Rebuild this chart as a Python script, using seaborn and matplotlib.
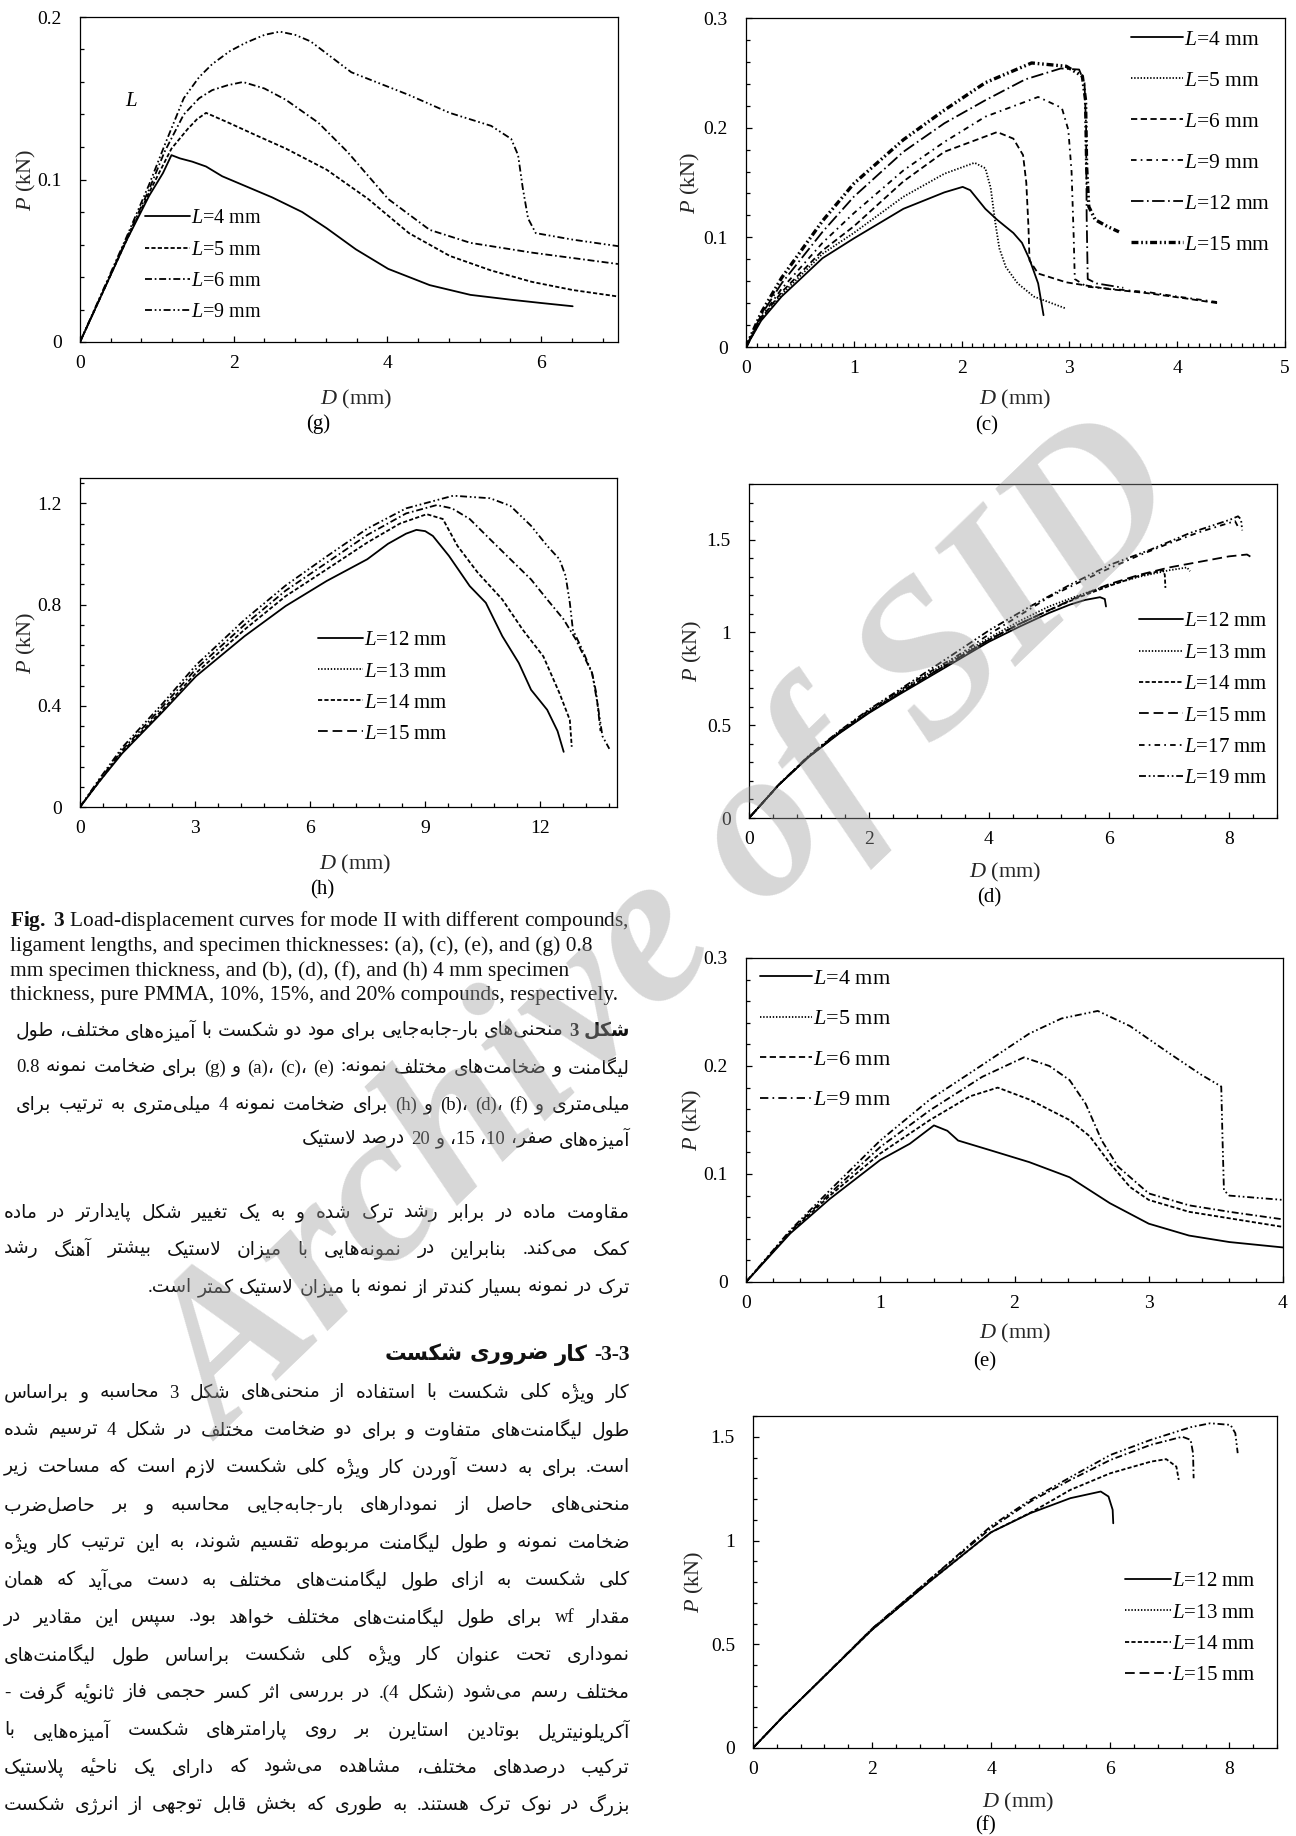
import matplotlib
matplotlib.use("Agg")
import pandas as pd
import seaborn as sns
import matplotlib.pyplot as plt
from matplotlib.lines import Line2D
from matplotlib.ticker import MultipleLocator, FuncFormatter

W, H = 1296, 1836

# ---------------- curves (D in mm, P in kN) ----------------
# panel (g)
G4 = ([0, 0.3, 0.6, 0.9, 1.08, 1.19, 1.3, 1.46, 1.64, 1.85, 2.15, 2.5, 2.89, 3.21, 3.59, 4.01, 4.55, 5.08, 5.61, 6.0, 6.41],
      [0, 0.031, 0.062, 0.090, 0.104, 0.115, 0.113, 0.111, 0.108, 0.102, 0.096, 0.089, 0.080, 0.070, 0.057, 0.045, 0.035, 0.029, 0.026, 0.024, 0.022])
G5 = ([0, 0.3, 0.6, 0.9, 1.05, 1.19, 1.40, 1.52, 1.64, 1.93, 2.3, 2.68, 3.21, 3.75, 4.28, 4.81, 5.35, 5.88, 6.41, 7.0],
      [0, 0.031, 0.062, 0.092, 0.106, 0.119, 0.131, 0.137, 0.141, 0.135, 0.127, 0.119, 0.106, 0.088, 0.067, 0.053, 0.044, 0.037, 0.032, 0.028])
G6 = ([0, 0.3, 0.6, 0.9, 1.1, 1.35, 1.55, 1.72, 1.92, 2.12, 2.4, 2.68, 3.10, 3.48, 4.01, 4.55, 5.08, 5.88, 7.0],
      [0, 0.031, 0.063, 0.094, 0.117, 0.140, 0.150, 0.155, 0.158, 0.160, 0.156, 0.149, 0.135, 0.117, 0.088, 0.069, 0.061, 0.055, 0.048])
G9 = ([0, 0.3, 0.6, 0.9, 1.1, 1.35, 1.55, 1.72, 1.95, 2.15, 2.4, 2.6, 2.8, 3.0, 3.53, 4.28, 4.81, 5.35, 5.61, 5.7, 5.76, 5.83, 5.93, 6.41, 7.0],
      [0, 0.032, 0.064, 0.097, 0.121, 0.150, 0.163, 0.171, 0.179, 0.184, 0.189, 0.191, 0.189, 0.185, 0.166, 0.152, 0.141, 0.133, 0.125, 0.115, 0.095, 0.076, 0.067, 0.063, 0.059])

# panel (c)
C4 = ([0, 0.14, 0.33, 0.71, 1.0, 1.46, 1.84, 2.01, 2.08, 2.22, 2.33, 2.48, 2.56, 2.63, 2.71, 2.76],
      [0, 0.024, 0.046, 0.081, 0.099, 0.126, 0.141, 0.146, 0.143, 0.126, 0.116, 0.104, 0.095, 0.080, 0.058, 0.029])
C5 = ([0, 0.14, 0.33, 0.71, 1.0, 1.46, 1.84, 2.12, 2.22, 2.27, 2.31, 2.35, 2.41, 2.52, 2.67, 2.97],
      [0, 0.025, 0.048, 0.085, 0.104, 0.137, 0.158, 0.168, 0.163, 0.145, 0.115, 0.090, 0.073, 0.058, 0.046, 0.035])
C6 = ([0, 0.14, 0.33, 0.71, 1.0, 1.46, 1.84, 2.33, 2.48, 2.57, 2.60, 2.62, 2.63, 2.71, 2.97, 3.35, 3.73, 4.1, 4.37],
      [0, 0.026, 0.050, 0.088, 0.110, 0.151, 0.178, 0.196, 0.190, 0.175, 0.150, 0.110, 0.079, 0.067, 0.059, 0.053, 0.049, 0.044, 0.040])
C9 = ([0, 0.14, 0.33, 0.71, 1.0, 1.46, 1.84, 2.22, 2.71, 2.93, 2.99, 3.02, 3.04, 3.05, 3.16, 3.5, 3.73, 4.0, 4.37],
      [0, 0.027, 0.053, 0.095, 0.122, 0.161, 0.187, 0.210, 0.228, 0.218, 0.198, 0.160, 0.100, 0.062, 0.055, 0.052, 0.050, 0.046, 0.041])
C12 = ([0, 0.14, 0.33, 0.71, 1.0, 1.46, 1.84, 2.22, 2.59, 2.92, 3.09, 3.14, 3.155, 3.16, 3.17, 3.25, 3.5],
       [0, 0.029, 0.058, 0.105, 0.137, 0.178, 0.204, 0.225, 0.244, 0.254, 0.253, 0.241, 0.200, 0.120, 0.062, 0.058, 0.054])
C15 = ([0, 0.14, 0.33, 0.71, 1.0, 1.46, 1.84, 2.22, 2.65, 2.97, 3.12, 3.15, 3.16, 3.18, 3.24, 3.35, 3.46],
       [0, 0.031, 0.063, 0.115, 0.149, 0.189, 0.216, 0.241, 0.259, 0.256, 0.247, 0.225, 0.164, 0.128, 0.116, 0.110, 0.105])

# panel (h)
H12 = ([0, 0.5, 1.1, 2.16, 3.02, 4.29, 5.36, 6.43, 7.49, 8.03, 8.5, 8.77, 9.0, 9.2, 9.62, 10.16, 10.58, 11.01, 11.44, 11.76, 12.18, 12.45, 12.61],
       [0, 0.10, 0.212, 0.377, 0.516, 0.675, 0.794, 0.893, 0.979, 1.04, 1.08, 1.095, 1.09, 1.071, 0.992, 0.873, 0.807, 0.675, 0.569, 0.463, 0.384, 0.30, 0.218])
H13 = ([0, 0.5, 1.1, 2.16, 3.02, 4.29, 5.36, 6.43, 7.49, 8.5, 9.3, 9.7, 10.16, 10.69, 11.22, 11.76, 12.18, 12.61, 12.93, 13.14, 13.35, 13.46, 13.57],
       [0, 0.105, 0.225, 0.398, 0.545, 0.720, 0.855, 0.965, 1.075, 1.160, 1.193, 1.18, 1.138, 1.058, 0.979, 0.899, 0.820, 0.741, 0.661, 0.595, 0.529, 0.45, 0.30])
H14 = ([0, 0.5, 1.1, 2.16, 3.02, 4.29, 5.36, 6.43, 7.49, 8.34, 9.04, 9.46, 9.84, 10.37, 11.01, 11.54, 12.08, 12.5, 12.77, 12.82],
       [0, 0.10, 0.218, 0.385, 0.529, 0.701, 0.833, 0.939, 1.045, 1.120, 1.157, 1.138, 1.032, 0.926, 0.820, 0.701, 0.595, 0.450, 0.344, 0.238])
H15 = ([0, 0.5, 1.1, 2.16, 3.02, 4.29, 5.36, 6.43, 7.49, 8.5, 9.73, 10.69, 11.22, 11.76, 12.18, 12.5, 12.66, 12.77, 12.85, 13.1, 13.35, 13.5, 13.62, 13.8],
       [0, 0.11, 0.235, 0.41, 0.56, 0.74, 0.875, 0.99, 1.10, 1.18, 1.23, 1.22, 1.19, 1.111, 1.032, 0.979, 0.913, 0.807, 0.70, 0.62, 0.53, 0.40, 0.28, 0.23])

# panel (d)
D12 = ([0, 0.5, 1, 1.5, 2, 2.5, 3, 3.5, 4, 4.5, 5, 5.35, 5.6, 5.85, 5.93, 5.95],
       [0, 0.18, 0.33, 0.455, 0.566, 0.665, 0.76, 0.855, 0.95, 1.03, 1.105, 1.15, 1.175, 1.19, 1.18, 1.14])
D13 = ([0, 0.5, 1, 1.5, 2, 2.5, 3, 3.5, 4, 4.5, 5, 5.5, 6, 6.5, 7.0, 7.3, 7.35],
       [0, 0.18, 0.333, 0.46, 0.575, 0.68, 0.78, 0.875, 0.97, 1.06, 1.14, 1.2, 1.255, 1.3, 1.335, 1.35, 1.33])
D14 = ([0, 0.5, 1, 1.5, 2, 2.5, 3, 3.5, 4, 4.5, 5, 5.5, 6, 6.5, 6.9, 6.93, 6.94],
       [0, 0.18, 0.332, 0.458, 0.57, 0.672, 0.77, 0.865, 0.96, 1.045, 1.12, 1.19, 1.25, 1.305, 1.335, 1.31, 1.24])
D15 = ([0, 0.5, 1, 1.5, 2, 2.5, 3, 3.5, 4, 4.5, 5, 5.5, 6, 6.5, 7, 7.5, 8, 8.3, 8.4],
       [0, 0.18, 0.332, 0.458, 0.57, 0.672, 0.77, 0.865, 0.96, 1.045, 1.12, 1.195, 1.26, 1.31, 1.35, 1.38, 1.41, 1.42, 1.40])
D17 = ([0, 0.5, 1, 1.5, 2, 2.5, 3, 3.5, 4, 4.5, 5, 5.5, 6, 6.5, 7, 7.5, 8, 8.1, 8.15],
       [0, 0.18, 0.335, 0.465, 0.58, 0.685, 0.785, 0.88, 0.99, 1.09, 1.19, 1.27, 1.345, 1.415, 1.48, 1.54, 1.59, 1.60, 1.57])
D19 = ([0, 0.5, 1, 1.5, 2, 2.5, 3.35, 4.02, 4.69, 5.35, 6.02, 6.69, 7.35, 8.02, 8.15, 8.2, 8.22],
       [0, 0.182, 0.337, 0.468, 0.585, 0.69, 0.871, 1.015, 1.141, 1.257, 1.365, 1.446, 1.536, 1.608, 1.626, 1.61, 1.55])

# panel (e)
E4 = ([0, 0.33, 0.625, 1.0, 1.22, 1.40, 1.50, 1.58, 1.82, 2.11, 2.41, 2.71, 3.0, 3.3, 3.6, 4.0],
      [0, 0.045, 0.077, 0.113, 0.128, 0.145, 0.140, 0.131, 0.122, 0.111, 0.097, 0.073, 0.054, 0.043, 0.037, 0.032])
E5 = ([0, 0.33, 0.625, 1.0, 1.37, 1.67, 1.875, 2.11, 2.41, 2.56, 2.71, 2.86, 3.0, 3.3, 3.6, 4.0],
      [0, 0.046, 0.080, 0.119, 0.150, 0.172, 0.180, 0.169, 0.150, 0.135, 0.110, 0.088, 0.076, 0.065, 0.059, 0.051])
E6 = ([0, 0.33, 0.625, 1.0, 1.37, 1.76, 2.07, 2.26, 2.41, 2.53, 2.65, 2.77, 3.0, 3.3, 3.6, 4.0],
      [0, 0.047, 0.082, 0.125, 0.159, 0.190, 0.208, 0.200, 0.187, 0.165, 0.131, 0.107, 0.082, 0.071, 0.065, 0.058])
E9 = ([0, 0.33, 0.625, 1.0, 1.37, 1.76, 2.11, 2.35, 2.62, 2.86, 3.15, 3.39, 3.54, 3.55, 3.56, 3.6, 4.0],
      [0, 0.048, 0.085, 0.131, 0.169, 0.201, 0.230, 0.244, 0.251, 0.237, 0.212, 0.192, 0.181, 0.130, 0.085, 0.080, 0.076])

# panel (f)
F12 = ([0, 0.5, 1, 2, 3, 4, 4.66, 5.33, 5.84, 5.97, 6.04, 6.05],
       [0, 0.15, 0.29, 0.57, 0.81, 1.04, 1.132, 1.204, 1.236, 1.212, 1.148, 1.083])
F13 = ([0, 0.5, 1, 2, 3, 3.5, 4.0, 4.66, 5.33, 6.0, 6.68, 7.21, 7.35, 7.39, 7.40],
       [0, 0.15, 0.29, 0.575, 0.82, 0.94, 1.06, 1.188, 1.292, 1.388, 1.461, 1.50, 1.485, 1.42, 1.30])
F14 = ([0, 0.5, 1, 2, 3, 4, 4.7, 5.33, 6.0, 6.68, 6.94, 7.11, 7.15],
       [0, 0.15, 0.29, 0.57, 0.81, 1.04, 1.14, 1.244, 1.324, 1.38, 1.392, 1.356, 1.292])
F15 = ([0, 0.5, 1, 2, 3, 3.5, 4.0, 4.66, 5.33, 6.0, 6.68, 7.35, 7.68, 8.02, 8.1, 8.14],
       [0, 0.15, 0.29, 0.575, 0.82, 0.945, 1.07, 1.196, 1.305, 1.412, 1.485, 1.546, 1.565, 1.557, 1.517, 1.421])

# ---------------- page text ----------------
CAP_EN = [r"$\mathbf{Fig.\ 3}$ Load-displacement curves for mode II with different compounds,",
          "ligament lengths, and specimen thicknesses: (a), (c), (e), and (g) 0.8",
          "mm specimen thickness, and (b), (d), (f), and (h) 4 mm specimen",
          "thickness, pure PMMA, 10%, 15%, and 20% compounds, respectively."]
CAP_FA = ["شکل 3 منحنی\u200cهای بار-جابه\u200cجایی برای مود دو شکست با آمیزه\u200cهای مختلف، طول",
          "لیگامنت و ضخامت\u200cهای مختلف نمونه: (a)، (c)، (e) و (g) برای ضخامت نمونه 0.8",
          "میلی\u200cمتری و (b)، (d)، (f) و (h) برای ضخامت نمونه 4 میلی\u200cمتری به ترتیب برای",
          "آمیزه\u200cهای صفر، 10، 15، و 20 درصد لاستیک"]
PARA1 = ["مقاومت ماده در برابر رشد ترک شده و به یک تغییر شکل پایدارتر در ماده",
         "کمک می\u200cکند. بنابراین در نمونه\u200cهایی با میزان لاستیک بیشتر آهنگ رشد",
         "ترک در نمونه بسیار کندتر از نمونه با میزان لاستیک کمتر است."]
HEAD = "3-3- کار ضروری شکست"
PARA2 = ["کار ویژه\u0654 کلی شکست با استفاده از منحنی\u200cهای شکل 3 محاسبه و براساس",
         "طول لیگامنت\u200cهای متفاوت و برای دو ضخامت مختلف در شکل 4 ترسیم شده",
         "است. برای به دست آوردن کار ویژه\u0654 کلی شکست لازم است که مساحت زیر",
         "منحنی\u200cهای حاصل از نمودارهای بار-جابه\u200cجایی محاسبه و بر حاصل\u200cضرب",
         "ضخامت نمونه و طول لیگامنت مربوطه تقسیم شوند، به این ترتیب کار ویژه\u0654",
         "کلی شکست به ازای طول لیگامنت\u200cهای مختلف به دست می\u200cآید که همان",
         "مقدار wf برای طول لیگامنت\u200cهای مختلف خواهد بود. سپس این مقادیر در",
         "نموداری تحت عنوان کار ویژه\u0654 کلی شکست براساس طول لیگامنت\u200cهای",
         "مختلف رسم می\u200cشود (شکل 4). در بررسی اثر کسر حجمی فاز ثانویه\u0654 گرفت -",
         "آکریلونیتریل بوتادین استایرن بر روی پارامترهای شکست آمیزه\u200cهایی با",
         "ترکیب درصدهای مختلف، مشاهده می\u200cشود که دارای یک ناحیه\u0654 پلاستیک",
         "بزرگ در نوک ترک هستند. به طوری که بخش قابل توجهی از انرژی شکست"]

# line patterns (points)
SOLID = ""
DOT = (1.0, 1.3)
SDASH = (3.0, 1.6)
MDASH = (4.5, 2.5)
LDASH = (7.0, 3.5)
DDOT = (5.0, 2.0, 1.2, 2.0)
DDOT_SP = (4.0, 3.0, 1.2, 3.0)
DDOT2 = (5.0, 2.0, 1.2, 2.0, 1.2, 2.0)
LDDOT = (9.0, 2.5, 1.2, 2.5)

sns.set_theme(style="ticks")
plt.rcParams.update({
    "font.family": ["Liberation Serif", "DejaVu Sans"],
    "mathtext.fontset": "custom",
    "mathtext.rm": "Liberation Serif",
    "mathtext.it": "Liberation Serif:italic",
    "mathtext.bf": "Liberation Serif:bold",
    "lines.scale_dashes": False,
    "axes.edgecolor": "black",
    "text.color": "black",
})

fig = plt.figure(figsize=(W / 100, H / 100), dpi=100)
fig.patch.set_facecolor("white")

PANELS = [
    dict(name="g", box=(80, 17, 618, 342), xlim=(0, 7), xt=(2, 0.4), ylim=(0, 0.2), yt=(0.1, 0.02),
         curves={"4": G4, "5": G5, "6": G6, "9": G9},
         dashes={"4": SOLID, "5": SDASH, "6": DDOT, "9": DDOT2},
         leg_dashes={"4": SOLID, "5": SDASH, "6": DDOT, "9": DDOT2},
         lw={}, dx=356, dy=399, px=26, lx=318, ly=424, leg=(145, 219, 31.7, 45), lfs=14.5),
    dict(name="c", box=(746, 18, 1285, 347), xlim=(0, 5), xt=(1, 0.1), ylim=(0, 0.3), yt=(0.1, 0.02),
         curves={"4": C4, "5": C5, "6": C6, "9": C9, "12": C12, "15": C15},
         dashes={"4": SOLID, "5": DOT, "6": MDASH, "9": DDOT_SP, "12": LDDOT, "15": DDOT2},
         leg_dashes={"4": SOLID, "5": DOT, "6": MDASH, "9": DDOT_SP, "12": LDDOT, "15": DDOT2},
         lw={"15": 2.4}, dx=1015, dy=399, px=690, lx=987, ly=426, leg=(1131, 40, 41.8, 52), lfs=15.5),
    dict(name="h", box=(80, 478, 617, 807), xlim=(0, 14), xt=(3, 0.6), ylim=(0, 1.3), yt=(0.4, 0.08),
         curves={"12": H12, "13": H13, "14": H14, "15": H15},
         dashes={"12": SOLID, "13": DDOT, "14": SDASH, "15": DDOT2},
         leg_dashes={"12": SOLID, "13": DOT, "14": SDASH, "15": LDASH},
         lw={}, dx=355, dy=864, px=26, lx=322, ly=890, leg=(318, 641, 31.7, 45), lfs=15),
    dict(name="d", box=(749, 484, 1277, 818), xlim=(0, 8.8), xt=(2, 0.4), ylim=(0, 1.8), yt=(0.5, 0.1),
         curves={"12": D12, "13": D13, "14": D14, "15": D15, "17": D17, "19": D19},
         dashes={"12": SOLID, "13": DOT, "14": SDASH, "15": LDASH, "17": DDOT_SP, "19": DDOT2},
         leg_dashes={"12": SOLID, "13": DOT, "14": SDASH, "15": LDASH, "17": DDOT_SP, "19": DDOT2},
         lw={}, dx=1005, dy=872, px=692, lx=989, ly=898, leg=(1139, 622, 32, 44), lfs=15),
    dict(name="e", box=(746, 958, 1283, 1282), xlim=(0, 4), xt=(1, 0.2), ylim=(0, 0.3), yt=(0.1, 0.02),
         curves={"4": E4, "5": E5, "6": E6, "9": E9},
         dashes={"4": SOLID, "5": SDASH, "6": DDOT, "9": DDOT2},
         leg_dashes={"4": SOLID, "5": DOT, "6": MDASH, "9": (6.0, 3.0, 1.2, 3.0)},
         lw={}, dx=1015, dy=1333, px=692, lx=985, ly=1362, leg=(760, 979, 41.5, 52), lfs=16),
    dict(name="f", box=(753, 1416, 1277, 1748), xlim=(0, 8.8), xt=(2, 0.4), ylim=(0, 1.6), yt=(0.5, 0.1),
         curves={"12": F12, "13": F13, "14": F14, "15": F15},
         dashes={"12": SOLID, "13": DDOT, "14": SDASH, "15": DDOT2},
         leg_dashes={"12": SOLID, "13": DOT, "14": SDASH, "15": LDASH},
         lw={}, dx=1018, dy=1802, px=694, lx=986, ly=1826, leg=(1125, 1582, 31.8, 46), lfs=15),
]

fmt = FuncFormatter(lambda v, pos: f"{round(v, 3):g}")


def draw_panel(p):
    l, t, r, b = p["box"]
    ax = fig.add_axes([l / W, 1 - b / H, (r - l) / W, (b - t) / H])
    frames = [pd.DataFrame({"D": d, "P": v, "series": k}) for k, (d, v) in p["curves"].items()]
    df = pd.concat(frames, ignore_index=True)
    sizes = {k: p["lw"].get(k, 1.3) for k in p["curves"]}
    sns.lineplot(data=df, x="D", y="P", style="series", dashes=p["dashes"], size="series",
                 sizes=sizes, color="black", estimator=None, sort=False, legend=False, ax=ax)
    ax.set_xlim(*p["xlim"])
    ax.set_ylim(*p["ylim"])
    ax.xaxis.set_major_locator(MultipleLocator(p["xt"][0]))
    ax.xaxis.set_minor_locator(MultipleLocator(p["xt"][1]))
    ax.yaxis.set_major_locator(MultipleLocator(p["yt"][0]))
    ax.yaxis.set_minor_locator(MultipleLocator(p["yt"][1]))
    ax.xaxis.set_major_formatter(fmt)
    ax.yaxis.set_major_formatter(fmt)
    ax.tick_params(which="both", direction="in", top=False, right=False, colors="black", width=0.9)
    ax.tick_params(which="major", length=4, labelsize=14)
    ax.tick_params(which="minor", length=3)
    ax.tick_params(axis="x", which="major", pad=9.5)
    ax.tick_params(axis="y", which="major", pad=13)
    for s in ax.spines.values():
        s.set_color("black")
        s.set_linewidth(0.9)
    ax.set_xlabel(r"$D$ (mm)", fontsize=16)
    ax.set_ylabel(r"$P$ (kN)", fontsize=16)
    ax.xaxis.set_label_coords((p["dx"] - l) / (r - l), (b - p["dy"]) / (b - t))
    ax.xaxis.label.set_va("center")
    ax.yaxis.set_label_coords((p["px"] - l) / (r - l), 0.5)
    ax.yaxis.label.set_va("center")
    ax.yaxis.label.set_ha("center")
    ax.text((p["lx"] - l) / (r - l), (b - p["ly"]) / (b - t), "(" + p["name"] + ")",
            transform=ax.transAxes, ha="center", va="center", fontsize=15)

    fs = p["lfs"]
    fpx = fs * 100 / 72
    handles, labels = [], []
    for k, st in p["leg_dashes"].items():
        ls = "-" if st == "" else (0, st)
        handles.append(Line2D([], [], color="black", lw=p["lw"].get(k, 1.3), linestyle=ls))
        labels.append(rf"$L$={k} mm")
    lx, ly, sp, hl = p["leg"]
    row = 0.97 * fpx
    ax.legend(handles, labels, loc="upper left", bbox_to_anchor=(lx / W, 1 - (ly - row / 2) / H),
              bbox_transform=fig.transFigure, frameon=False, borderpad=0, borderaxespad=0,
              handlelength=hl / fpx, handletextpad=0.05, labelspacing=(sp - row) / fpx, fontsize=fs)
    return ax


axes = {p["name"]: draw_panel(p) for p in PANELS}
fig.text(131 / W, 1 - 102 / H, "L", style="italic", fontsize=15, ha="center", va="center")

# ---------------- Persian shaping and ordering ----------------
FORMS = {
    "\u0621": ("\uFE80",), "\u0622": ("\uFE81", "\uFE82"), "\u0623": ("\uFE83", "\uFE84"),
    "\u0624": ("\uFE85", "\uFE86"), "\u0625": ("\uFE87", "\uFE88"),
    "\u0626": ("\uFE89", "\uFE8A", "\uFE8B", "\uFE8C"), "\u0627": ("\uFE8D", "\uFE8E"),
    "\u0628": ("\uFE8F", "\uFE90", "\uFE91", "\uFE92"), "\u0629": ("\uFE93", "\uFE94"),
    "\u062A": ("\uFE95", "\uFE96", "\uFE97", "\uFE98"), "\u062B": ("\uFE99", "\uFE9A", "\uFE9B", "\uFE9C"),
    "\u062C": ("\uFE9D", "\uFE9E", "\uFE9F", "\uFEA0"), "\u062D": ("\uFEA1", "\uFEA2", "\uFEA3", "\uFEA4"),
    "\u062E": ("\uFEA5", "\uFEA6", "\uFEA7", "\uFEA8"), "\u062F": ("\uFEA9", "\uFEAA"),
    "\u0630": ("\uFEAB", "\uFEAC"), "\u0631": ("\uFEAD", "\uFEAE"), "\u0632": ("\uFEAF", "\uFEB0"),
    "\u0633": ("\uFEB1", "\uFEB2", "\uFEB3", "\uFEB4"), "\u0634": ("\uFEB5", "\uFEB6", "\uFEB7", "\uFEB8"),
    "\u0635": ("\uFEB9", "\uFEBA", "\uFEBB", "\uFEBC"), "\u0636": ("\uFEBD", "\uFEBE", "\uFEBF", "\uFEC0"),
    "\u0637": ("\uFEC1", "\uFEC2", "\uFEC3", "\uFEC4"), "\u0638": ("\uFEC5", "\uFEC6", "\uFEC7", "\uFEC8"),
    "\u0639": ("\uFEC9", "\uFECA", "\uFECB", "\uFECC"), "\u063A": ("\uFECD", "\uFECE", "\uFECF", "\uFED0"),
    "\u0641": ("\uFED1", "\uFED2", "\uFED3", "\uFED4"), "\u0642": ("\uFED5", "\uFED6", "\uFED7", "\uFED8"),
    "\u0644": ("\uFEDD", "\uFEDE", "\uFEDF", "\uFEE0"), "\u0645": ("\uFEE1", "\uFEE2", "\uFEE3", "\uFEE4"),
    "\u0646": ("\uFEE5", "\uFEE6", "\uFEE7", "\uFEE8"), "\u0647": ("\uFEE9", "\uFEEA", "\uFEEB", "\uFEEC"),
    "\u0648": ("\uFEED", "\uFEEE"),
    "\u067E": ("\uFB56", "\uFB57", "\uFB58", "\uFB59"), "\u0686": ("\uFB7A", "\uFB7B", "\uFB7C", "\uFB7D"),
    "\u0698": ("\uFB8A", "\uFB8B"), "\u06A9": ("\uFB8E", "\uFB8F", "\uFB90", "\uFB91"),
    "\u06AF": ("\uFB92", "\uFB93", "\uFB94", "\uFB95"), "\u06CC": ("\uFBFC", "\uFBFD", "\uFBFE", "\uFBFF"),
}
LAMALEF = {"\u0622": ("\uFEF5", "\uFEF6"), "\u0623": ("\uFEF7", "\uFEF8"),
           "\u0625": ("\uFEF9", "\uFEFA"), "\u0627": ("\uFEFB", "\uFEFC")}
MARKS = set(chr(c) for c in range(0x064B, 0x0660))
MIRROR = {"(": ")", ")": "(", "[": "]", "]": "["}


def shape(s):
    s = s.replace("\u064A", "\u06CC").replace("\u0643", "\u06A9")
    n = len(s)

    def nb(i, step):
        j = i + step
        while 0 <= j < n and s[j] in MARKS:
            j += step
        return s[j] if 0 <= j < n else None

    out, i = [], 0
    while i < n:
        ch = s[i]
        if ch not in FORMS:
            if ch != "\u200c":
                out.append(ch)
            i += 1
            continue
        prev, nxt = nb(i, -1), nb(i, 1)
        jp = prev in FORMS and len(FORMS[prev]) == 4 and len(FORMS[ch]) > 1
        if ch == "\u0644" and nxt in LAMALEF:
            out.append(LAMALEF[nxt][1 if jp else 0])
            i = s.index(nxt, i + 1) + 1
            continue
        jn = len(FORMS[ch]) == 4 and nxt in FORMS and len(FORMS[nxt]) > 1
        f = FORMS[ch]
        if len(f) == 1:
            out.append(f[0])
        elif jp and jn:
            out.append(f[3])
        elif jp:
            out.append(f[1])
        elif jn:
            out.append(f[2])
        else:
            out.append(f[0])
        i += 1
    return "".join(out)


def bidi_class(ch):
    o = ord(ch)
    if ch in MARKS:
        return "NSM"
    if ch == "\u060C":
        return "CS"
    if 0x0600 <= o <= 0x06FF or 0xFB50 <= o <= 0xFDFF or 0xFE70 <= o <= 0xFEFF:
        return "AL"
    if "0" <= ch <= "9":
        return "EN"
    if ch in "+-":
        return "ES"
    if ch in "#$%":
        return "ET"
    if ch in ",.:/":
        return "CS"
    if ch == " ":
        return "WS"
    if ch.isalpha():
        return "L"
    return "ON"


def visual(s):
    n = len(s)
    c = [bidi_class(ch) for ch in s]
    for i in range(n):
        if c[i] == "NSM":
            c[i] = c[i - 1] if i else "R"
    last = "R"
    for i in range(n):
        if c[i] in ("L", "R", "AL"):
            last = c[i]
        elif c[i] == "EN" and last == "AL":
            c[i] = "AN"
    c = ["R" if x == "AL" else x for x in c]
    for i in range(1, n - 1):
        if c[i] == "ES" and c[i - 1] == "EN" and c[i + 1] == "EN":
            c[i] = "EN"
        elif c[i] == "CS" and c[i - 1] == c[i + 1] and c[i - 1] in ("EN", "AN"):
            c[i] = c[i - 1]
    c = ["ON" if x in ("ES", "ET", "CS") else x for x in c]
    last = "R"
    for i in range(n):
        if c[i] in ("L", "R"):
            last = c[i]
        elif c[i] == "EN" and last == "L":
            c[i] = "L"
    strong = ["R" if x in ("EN", "AN") else x for x in c]
    i = 0
    while i < n:
        if strong[i] in ("WS", "ON"):
            j = i
            while j < n and strong[j] in ("WS", "ON"):
                j += 1
            left = strong[i - 1] if i > 0 else "R"
            right = strong[j] if j < n else "R"
            d = left if left == right else "R"
            for k in range(i, j):
                c[k] = d
            i = j
        else:
            i += 1
    lev = [1 if x == "R" else 2 for x in c]
    order = list(range(n))
    for lv in (2, 1):
        i = 0
        while i < n:
            if lev[order[i]] >= lv:
                j = i
                while j < n and lev[order[j]] >= lv:
                    j += 1
                order[i:j] = order[i:j][::-1]
                i = j
            else:
                i += 1
    out = [MIRROR.get(s[k], s[k]) if lev[k] == 1 else s[k] for k in order]
    i = 0
    while i < len(out) - 1:
        if out[i] in MARKS:
            out[i], out[i + 1] = out[i + 1], out[i]
            i += 2
        else:
            i += 1
    return "".join(out)


FA = ["Liberation Serif", "DejaVu Sans"]
renderer = fig.canvas.get_renderer()


def chunks(line):
    return [c for c in visual(shape(line)).split(" ") if c]


def natural(chs, size, weight="normal"):
    tot = 0.0
    for c in chs:
        t = fig.text(0, 0, c, fontsize=size, family=FA, fontweight=weight)
        tot += t.get_window_extent(renderer).width
        t.remove()
    return tot + 0.18 * size * 100 / 72 * (len(chs) - 1)


def fa_line(line, y, x0, x1, size, justify=True, weight="normal", bold_tail=0):
    chs = chunks(line)
    n = len(chs)
    objs = []
    for k, c in enumerate(chs):
        wt = "bold" if k >= n - bold_tail else weight
        objs.append(fig.text(0, 1 - y / H, c, fontsize=size, family=FA, fontweight=wt,
                             ha="left", va="center", color="#111111"))
    widths = [o.get_window_extent(renderer).width for o in objs]
    if justify and n > 1:
        gap = (x1 - x0 - sum(widths)) / (n - 1)
        x = x0
    else:
        gap = 0.3 * size * 100 / 72
        x = x1 - sum(widths) - gap * (n - 1)
    for o, w in zip(objs, widths):
        o.set_x(x / W)
        x += w + gap


# English caption, left aligned
probe = fig.text(0, 0, CAP_EN[0], fontsize=13)
en_size = 13 * 616 / probe.get_window_extent(renderer).width
probe.remove()
for line, y in zip(CAP_EN, [921, 946, 971, 996]):
    fig.text(10 / W, 1 - y / H, line, fontsize=en_size, ha="left", va="center", color="#111111")

# Persian text, justified; each line may grow a little above the tightest fit
base = 13.5
cap_fit = [base * 614 / natural(chunks(s), base) for s in CAP_FA[:3]]
p1_fit = [base * 626 / natural(chunks(s), base) for s in PARA1[:2]]
p2_fit = [base * 626 / natural(chunks(s), base) for s in PARA2]
fa_size = min([base] + cap_fit + p1_fit + p2_fit)
cap_ = min(fa_size * 1.07, base)


def line_size(fit):
    return min(fit, cap_)


for k, (line, y) in enumerate(zip(CAP_FA, [1031, 1068, 1105, 1139])):
    sz = line_size(cap_fit[k]) if k < 3 else fa_size
    fa_line(line, y, 16, 630, sz, justify=k < 3, bold_tail=2 if k == 0 else 0)
for k, (line, y) in enumerate(zip(PARA1, [1213, 1250, 1288])):
    sz = line_size(p1_fit[k]) if k < 2 else fa_size
    fa_line(line, y, 4, 630, sz, justify=k < 2)
fa_line(HEAD, 1355, 4, 630, fa_size + 2, justify=False, weight="bold")
for k, line in enumerate(PARA2):
    fa_line(line, 1393 + 37.5 * k, 4, 630, line_size(p2_fit[k]), justify=True)

# watermark of the scanned page
fig.text(672 / W, 1 - 935 / H, "Archive of SID", rotation=44, rotation_mode="anchor",
         ha="center", va="center", fontsize=156, family="Liberation Serif", fontweight="bold",
         style="italic", color="#9a9a9a", alpha=0.40, zorder=50)

fig.savefig("out.png", dpi=100, facecolor="white")
